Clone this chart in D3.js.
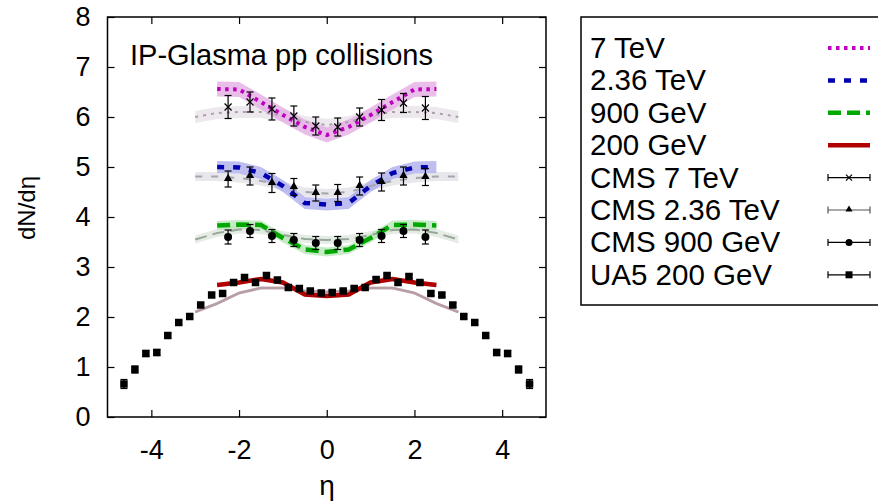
<!DOCTYPE html>
<html>
<head>
<meta charset="utf-8">
<script src="https://cdn.jsdelivr.net/npm/d3@7"></script>
<style>
  html, body { margin: 0; padding: 0; background: #fff; }
  svg { display: block; font-family: "Liberation Sans", Arial, Helvetica, sans-serif; }
</style>
</head>
<body>
<svg id="chart" width="878" height="504"></svg>
<script>
// Pseudorapidity grids for the model curves
const etaModel = [-2.5, -2, -1.5, -1, -0.5, 0, 0.5, 1, 1.5, 2, 2.5];
const etaGray = [-3, -2.5, -2, -1.5, -1, -0.5, 0, 0.5, 1, 1.5, 2, 2.5, 3];

// IP-Glasma model, dN/deta per energy
const model7 = [6.56, 6.55, 6.30, 6.04, 5.80, 5.64, 5.80, 6.04, 6.30, 6.55, 6.56];
const model236 = [5.00, 4.99, 4.88, 4.62, 4.28, 4.25, 4.28, 4.62, 4.88, 4.99, 5.00];
const model900 = [3.83, 3.85, 3.84, 3.58, 3.35, 3.30, 3.35, 3.58, 3.84, 3.85, 3.83];
const model200 = [2.64, 2.69, 2.76, 2.69, 2.45, 2.42, 2.45, 2.69, 2.76, 2.69, 2.64];
const modelBand = [0.15, 0.12, 0.09, 0.04];

// Alternative (grey) model curves
const gray7 = [6.00, 6.08, 6.10, 6.10, 6.03, 5.90, 5.84, 5.90, 6.03, 6.10, 6.10, 6.08, 6.00];
const gray236 = [4.81, 4.81, 4.78, 4.72, 4.62, 4.50, 4.47, 4.50, 4.62, 4.72, 4.78, 4.81, 4.81];
const gray900 = [3.55, 3.68, 3.75, 3.74, 3.64, 3.56, 3.54, 3.56, 3.64, 3.74, 3.75, 3.68, 3.55];
const gray200 = [2.10, 2.27, 2.48, 2.58, 2.58, 2.52, 2.50, 2.52, 2.58, 2.58, 2.48, 2.27, 2.10];
const grayBand = [0.12, 0.09, 0.08, 0.03];

// CMS measurements
const etaCMS = [-2.25, -1.75, -1.25, -0.75, -0.25, 0.25, 0.75, 1.25, 1.75, 2.25];
const cms7 = [6.20, 6.30, 6.16, 6.02, 5.82, 5.80, 6.00, 6.14, 6.28, 6.18];
const cms7Err = [0.23, 0.20, 0.22, 0.20, 0.18, 0.18, 0.18, 0.21, 0.19, 0.23];
const cms236 = [4.76, 4.82, 4.68, 4.60, 4.48, 4.48, 4.62, 4.70, 4.82, 4.80];
const cms236Err = [0.16, 0.18, 0.19, 0.17, 0.16, 0.17, 0.18, 0.18, 0.18, 0.17];
const cms900 = [3.60, 3.72, 3.62, 3.54, 3.48, 3.48, 3.54, 3.62, 3.72, 3.60];
const cms900Err = [0.14, 0.13, 0.13, 0.13, 0.13, 0.13, 0.13, 0.13, 0.13, 0.14];

// UA5 200 GeV measurements
const etaUA5 = [-4.625, -4.375, -4.125, -3.875, -3.625, -3.375, -3.125, -2.875, -2.625, -2.375,
  -2.125, -1.875, -1.625, -1.375, -1.125, -0.875, -0.625, -0.375, -0.125,
  0.125, 0.375, 0.625, 0.875, 1.125, 1.375, 1.625, 1.875, 2.125, 2.375,
  2.625, 2.875, 3.125, 3.375, 3.625, 3.875, 4.125, 4.375, 4.625];
const ua5 = [0.66, 0.95, 1.27, 1.29, 1.63, 1.89, 2.01, 2.24, 2.44, 2.47,
  2.69, 2.79, 2.69, 2.83, 2.74, 2.59, 2.57, 2.52, 2.48,
  2.49, 2.52, 2.57, 2.59, 2.75, 2.83, 2.69, 2.81, 2.69, 2.47,
  2.44, 2.24, 2.01, 1.89, 1.63, 1.29, 1.27, 0.95, 0.66];
const ua5Err = [0.09, 0.07, 0.06, 0.06, 0.04, 0.04, 0.04, 0.04, 0.04, 0.04,
  0.04, 0.04, 0.04, 0.04, 0.04, 0.04, 0.04, 0.04, 0.04,
  0.04, 0.04, 0.04, 0.04, 0.04, 0.04, 0.04, 0.04, 0.04, 0.04,
  0.04, 0.04, 0.04, 0.04, 0.04, 0.06, 0.06, 0.07, 0.09];

const xTicks = [-4, -2, 0, 2, 4];
const yTicks = [0, 1, 2, 3, 4, 5, 6, 7, 8];
const legendLabels = ["7 TeV", "2.36 TeV", "900 GeV", "200 GeV",
  "CMS 7 TeV", "CMS 2.36 TeV", "CMS 900 GeV", "UA5 200 GeV"];

const svg = d3.select("#chart");
const x = d3.scaleLinear().domain([-5, 5]).range([107.5, 546]);
const y = d3.scaleLinear().domain([0, 8]).range([417, 17]);

const lineGen = d3.line().x(d => x(d[0])).y(d => y(d[1]));
const areaGen = d3.area().x(d => x(d[0])).y0(d => y(d[1] - d[2])).y1(d => y(d[1] + d[2]));

const zip = (xs, ys) => xs.map((v, i) => [v, ys[i]]);

// Curve styles: colored model and grey alternative
const models = [
  { vals: model7, band: modelBand[0], color: "#c000c0", fill: "#e2a8e2", dash: "3.5,4.5", w: 4 },
  { vals: model236, band: modelBand[1], color: "#0000b0", fill: "#a8a8ec", dash: "7,9", w: 4.5 },
  { vals: model900, band: modelBand[2], color: "#00a800", fill: "#b4e4b4", dash: "13,6", w: 4.5 },
  { vals: model200, band: modelBand[3], color: "#b00000", fill: "#e0a0a0", dash: null, w: 4.5 }
];
const grays = [
  { vals: gray7, band: grayBand[0], color: "#aaa0aa", fill: "#ebe5eb", dash: "3,5", w: 2 },
  { vals: gray236, band: grayBand[1], color: "#a4a4ac", fill: "#e6e6ea", dash: "7,9", w: 2 },
  { vals: gray900, band: grayBand[2], color: "#98a898", fill: "#e2eae2", dash: "12,6", w: 2 },
  { vals: gray200, band: grayBand[3], color: "#b89ea4", fill: "#d8c8cc", dash: null, w: 2.5 }
];

const plot = svg.append("g");

// Bands
grays.forEach(g => {
  plot.append("path")
    .datum(etaGray.map((e, i) => [e, g.vals[i], g.band]))
    .attr("d", areaGen).attr("fill", g.fill).attr("opacity", 0.9);
});
models.forEach(m => {
  plot.append("path")
    .datum(etaModel.map((e, i) => [e, m.vals[i], m.band]))
    .attr("d", areaGen).attr("fill", m.fill).attr("opacity", 0.75);
});

// Grey curves
grays.forEach(g => {
  plot.append("path")
    .datum(zip(etaGray, g.vals))
    .attr("d", lineGen).attr("fill", "none")
    .attr("stroke", g.color).attr("stroke-width", g.w)
    .attr("stroke-dasharray", g.dash);
});
// Model curves
models.forEach(m => {
  plot.append("path")
    .datum(zip(etaModel, m.vals))
    .attr("d", lineGen).attr("fill", "none")
    .attr("stroke", m.color).attr("stroke-width", m.w)
    .attr("stroke-dasharray", m.dash);
});

// Error bar with caps
function errBar(g, cx, yLo, yHi, capHalf, color) {
  g.append("line").attr("x1", cx).attr("x2", cx).attr("y1", yLo).attr("y2", yHi)
    .attr("stroke", color).attr("stroke-width", 1.2);
  [yLo, yHi].forEach(v => g.append("line")
    .attr("x1", cx - capHalf).attr("x2", cx + capHalf).attr("y1", v).attr("y2", v)
    .attr("stroke", color).attr("stroke-width", 1.2));
}

// Marker shapes
function marker(g, kind, cx, cy) {
  if (kind === "cross") {
    const s = 3.5;
    g.append("path").attr("d", `M${cx - s},${cy - s}L${cx + s},${cy + s}M${cx - s},${cy + s}L${cx + s},${cy - s}`)
      .attr("stroke", "#000").attr("stroke-width", 1.2).attr("fill", "none");
  } else if (kind === "tri") {
    g.append("path").attr("d", d3.symbol().type(d3.symbolTriangle).size(30)())
      .attr("transform", `translate(${cx},${cy - 0.5})`).attr("fill", "#000");
  } else if (kind === "circ") {
    g.append("circle").attr("cx", cx).attr("cy", cy).attr("r", 4).attr("fill", "#000");
  } else {
    g.append("rect").attr("x", cx - 3.75).attr("y", cy - 3.75).attr("width", 7.5).attr("height", 7.5).attr("fill", "#000");
  }
}

const dataSets = [
  { eta: etaCMS, v: cms7, e: cms7Err, kind: "cross" },
  { eta: etaCMS, v: cms236, e: cms236Err, kind: "tri" },
  { eta: etaCMS, v: cms900, e: cms900Err, kind: "circ" },
  { eta: etaUA5, v: ua5, e: ua5Err, kind: "sq" }
];
const pts = svg.append("g");
dataSets.forEach(ds => {
  ds.eta.forEach((e, i) => {
    const cx = x(e);
    errBar(pts, cx, y(ds.v[i] - ds.e[i]), y(ds.v[i] + ds.e[i]), 3.5, "#000");
    marker(pts, ds.kind, cx, y(ds.v[i]));
  });
});

// Frame and ticks (mirrored on all sides, pointing inward)
const axes = svg.append("g");
const [x0, x1] = x.range();
const [yb, yt] = y.range();
axes.append("rect").attr("x", x0).attr("y", yt).attr("width", x1 - x0).attr("height", yb - yt)
  .attr("fill", "none").attr("stroke", "#000").attr("stroke-width", 1.5);

const xAxisB = d3.axisBottom(x).tickValues(xTicks).tickSizeInner(-7).tickSizeOuter(0).tickPadding(23)
  .tickFormat(d => d);
const xAxisT = d3.axisTop(x).tickValues(xTicks).tickSizeInner(-7).tickSizeOuter(0).tickFormat("");
const yAxisL = d3.axisLeft(y).tickValues(yTicks).tickSizeInner(-7).tickSizeOuter(0).tickPadding(17)
  .tickFormat(d => d);
const yAxisR = d3.axisRight(y).tickValues(yTicks).tickSizeInner(-7).tickSizeOuter(0).tickFormat("");

function styleAxis(g) {
  g.select(".domain").remove();
  g.selectAll(".tick line").attr("stroke", "#000").attr("stroke-width", 1.2);
  g.selectAll(".tick text").attr("fill", "#000").attr("font-size", 27)
    .attr("font-family", "Liberation Sans, Arial, sans-serif");
}
axes.append("g").attr("transform", `translate(0,${yb})`).call(xAxisB).call(styleAxis);
axes.append("g").attr("transform", `translate(0,${yt})`).call(xAxisT).call(styleAxis);
axes.append("g").attr("transform", `translate(${x0},0)`).call(yAxisL).call(styleAxis);
axes.append("g").attr("transform", `translate(${x1},0)`).call(yAxisR).call(styleAxis);
// Plain hyphen for negative tick labels
axes.selectAll(".tick text").text(function () { return this.textContent.replace("\u2212", "-"); });

// Axis titles and plot label
svg.append("text").attr("x", 327).attr("y", 495).attr("text-anchor", "middle")
  .attr("font-size", 28).text("η");
svg.append("text").attr("transform", "translate(35,208) rotate(-90)").attr("text-anchor", "middle")
  .attr("font-size", 24).text("dN/dη");
svg.append("text").attr("x", 130).attr("y", 65).attr("font-size", 29).text("IP-Glasma pp collisions");

// Legend
const leg = svg.append("g");
leg.append("rect").attr("x", 581).attr("y", 17).attr("width", 330).attr("height", 288)
  .attr("fill", "#fff").attr("stroke", "#000").attr("stroke-width", 1.5);
const rowY = i => 48 + i * 32.4;
legendLabels.forEach((lab, i) => {
  leg.append("text").attr("x", 590).attr("y", rowY(i) + 10).attr("font-size", 29.5).text(lab);
});
models.forEach((m, i) => {
  leg.append("line").attr("x1", 828).attr("x2", 870).attr("y1", rowY(i)).attr("y2", rowY(i))
    .attr("stroke", m.color).attr("stroke-width", m.w).attr("stroke-dasharray", m.dash);
});
const legKinds = ["cross", "tri", "circ", "sq"];
const legColors = ["#000", "#555", "#000", "#000"];
legKinds.forEach((k, j) => {
  const cy = rowY(4 + j);
  leg.append("line").attr("x1", 828).attr("x2", 870).attr("y1", cy).attr("y2", cy)
    .attr("stroke", legColors[j]).attr("stroke-width", 1.2);
  [828, 870].forEach(cx => leg.append("line").attr("x1", cx).attr("x2", cx)
    .attr("y1", cy - 3.5).attr("y2", cy + 3.5).attr("stroke", legColors[j]).attr("stroke-width", 1.2));
  if (k === "cross") {
    const s = 3;
    leg.append("path").attr("d", `M${849 - s},${cy - s}L${849 + s},${cy + s}M${849 - s},${cy + s}L${849 + s},${cy - s}`)
      .attr("stroke", "#000").attr("stroke-width", 1.2);
  } else if (k === "tri") {
    leg.append("path").attr("d", d3.symbol().type(d3.symbolTriangle).size(22)())
      .attr("transform", `translate(849,${cy - 0.5})`).attr("fill", "#000");
  } else if (k === "circ") {
    leg.append("circle").attr("cx", 849).attr("cy", cy).attr("r", 3.5).attr("fill", "#000");
  } else {
    leg.append("rect").attr("x", 845.5).attr("y", cy - 3.5).attr("width", 7).attr("height", 7).attr("fill", "#000");
  }
});
</script>
</body>
</html>
